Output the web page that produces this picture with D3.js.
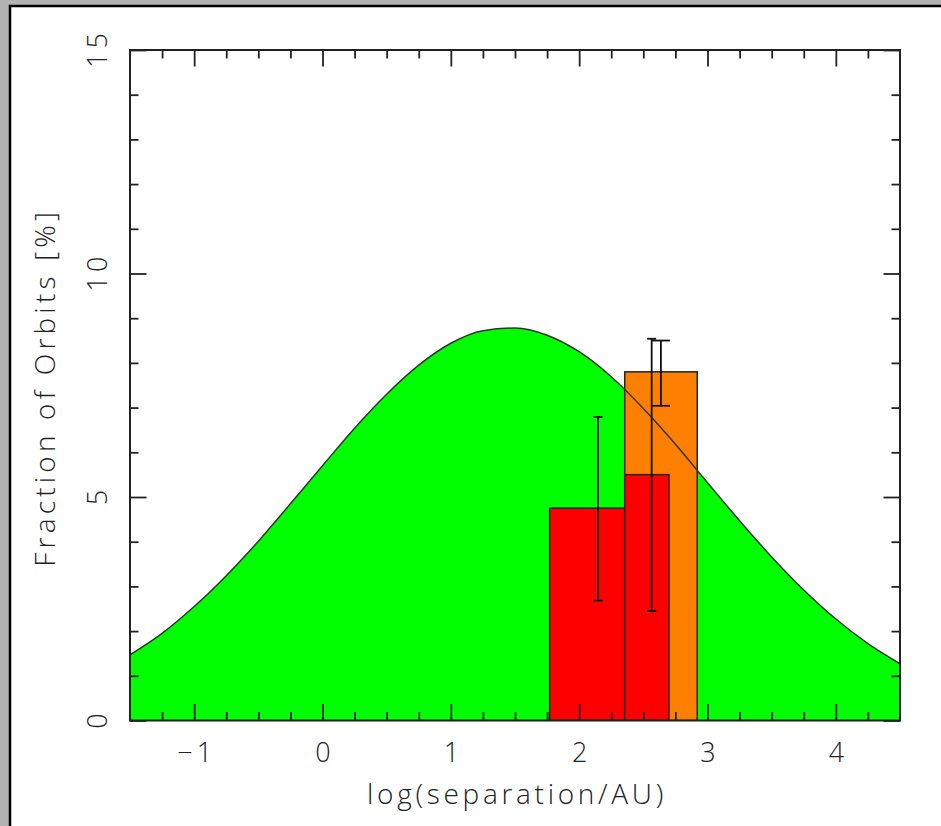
<!DOCTYPE html>
<html lang="en">
<head>
  <meta charset="UTF-8" />
  <title>Fraction of Orbits</title>
  <script src="https://d3js.org/d3.v7.min.js"></script>
  <style>
    body, html {
      margin: 0;
      padding: 0;
      background: #b2b2b2;
    }
    #chart {
      display: block;
    }
    text {
      font-family: "Open Sans", "DejaVu Sans", sans-serif;
      font-weight: 300;
      fill: #222;
    }
  </style>
</head>
<body>
  <svg id="chart" width="941" height="826"></svg>
  <script>
    // Gaussian-like model curve, every 0.25 in log(a)
    const curveX = [-1.5, -1.25, -1, -0.75, -0.5, -0.25, 0, 0.25, 0.5, 0.75, 1, 1.25, 1.5,
                    1.75, 2, 2.25, 2.5, 2.75, 3, 3.25, 3.5, 3.75, 4, 4.25, 4.5];
    const curveY = [1.47, 1.95, 2.55, 3.24, 4.01, 4.85, 5.70, 6.54, 7.30, 7.95, 8.44, 8.72, 8.78,
                    8.62, 8.25, 7.69, 6.98, 6.18, 5.32, 4.47, 3.66, 2.92, 2.27, 1.72, 1.27];

    // histogram bins (log separation edges) and heights in %
    const redBins = [[1.77, 2.355], [2.355, 2.70]];
    const redHeights = [4.75, 5.50];
    const orangeBins = [[2.355, 2.92]];
    const orangeHeights = [7.80];

    // error bars: position, low, high
    const redErrX = [2.147, 2.565];
    const redErrLo = [2.68, 2.45];
    const redErrHi = [6.79, 8.54];
    const orangeErrX = [2.637];
    const orangeErrLo = [7.04];
    const orangeErrHi = [8.50];

    const xMajor = [-1, 0, 1, 2, 3, 4];
    const yMajor = [0, 5, 10, 15];

    const svg = d3.select('#chart');

    // white panel with a dark border, as in the screenshot
    svg.append('rect')
      .attr('x', 10).attr('y', 6)
      .attr('width', 960).attr('height', 860)
      .attr('fill', '#fff')
      .attr('stroke', '#000')
      .attr('stroke-width', 2.5);

    const mLeft = 130, mRight = 900, mTop = 50, mBottom = 720.5;

    const x = d3.scaleLinear().domain([-1.5, 4.5]).range([mLeft, mRight]);
    const y = d3.scaleLinear().domain([0, 15]).range([mBottom, mTop]);

    svg.append('clipPath').attr('id', 'clip')
      .append('rect')
      .attr('x', mLeft).attr('y', mTop)
      .attr('width', mRight - mLeft).attr('height', mBottom - mTop);

    const plot = svg.append('g').attr('clip-path', 'url(#clip)');

    const pts = curveX.map((v, i) => [v, curveY[i]]);

    // green area under the model curve
    plot.append('path')
      .datum(pts)
      .attr('fill', '#00ff00')
      .attr('d', d3.area()
        .x(d => x(d[0]))
        .y0(y(0))
        .y1(d => y(d[1]))
        .curve(d3.curveMonotoneX));

    // histogram bars
    const drawBars = (bins, heights, color) => {
      plot.append('g')
        .selectAll('rect')
        .data(bins)
        .enter().append('rect')
        .attr('x', d => x(d[0]))
        .attr('width', d => x(d[1]) - x(d[0]))
        .attr('y', (d, i) => y(heights[i]))
        .attr('height', (d, i) => y(0) - y(heights[i]))
        .attr('fill', color)
        .attr('stroke', '#222')
        .attr('stroke-width', 1.5);
    };
    drawBars(orangeBins, orangeHeights, '#ff8000');
    drawBars(redBins, redHeights, '#ff0000');

    // model curve outline
    plot.append('path')
      .datum(pts)
      .attr('fill', 'none')
      .attr('stroke', '#333')
      .attr('stroke-width', 1.5)
      .attr('d', d3.line()
        .x(d => x(d[0]))
        .y(d => y(d[1]))
        .curve(d3.curveMonotoneX));

    // error bars
    const drawErr = (xs, lo, hi, cap) => {
      const g = plot.append('g').attr('stroke', '#111').attr('stroke-width', 1.8);
      xs.forEach((v, i) => {
        g.append('line')
          .attr('x1', x(v)).attr('x2', x(v))
          .attr('y1', y(lo[i])).attr('y2', y(hi[i]));
        [lo[i], hi[i]].forEach(e => {
          g.append('line')
            .attr('x1', x(v) - cap).attr('x2', x(v) + cap)
            .attr('y1', y(e)).attr('y2', y(e));
        });
      });
    };
    drawErr(redErrX, redErrLo, redErrHi, 4.5);
    drawErr(orangeErrX, orangeErrLo, orangeErrHi, 9);

    // ticks on all four sides, pointing inward
    const xMinor = d3.range(-1.25, 4.5, 0.25).filter(v => !xMajor.includes(v));
    const yMinor = d3.range(1, 15, 1).filter(v => !yMajor.includes(v));

    const styleAxis = g => {
      g.select('.domain').remove();
      g.selectAll('line').attr('stroke', '#222').attr('stroke-width', 1.8);
    };

    const addAxis = (axisFn, scale, transform, values, size, labels) => {
      const ax = axisFn(scale).tickValues(values).tickSize(-size).tickSizeOuter(0);
      if (!labels) ax.tickFormat('');
      const g = svg.append('g').attr('transform', transform).call(ax).call(styleAxis);
      g.selectAll('text')
        .attr('font-size', 27)
        .attr('fill', '#222')
        .style('letter-spacing', '4px');
      return g;
    };

    const xb = addAxis(d3.axisBottom, x, `translate(0,${mBottom})`, xMajor, 16.5, true);
    xb.selectAll('text')
      .attr('y', 0).attr('dy', 0)
      .attr('transform', 'translate(2,41.5)')
      .text(d => d < 0 ? '\u2212' + Math.abs(d) : d);
    addAxis(d3.axisBottom, x, `translate(0,${mBottom})`, xMinor, 8.5, false);
    addAxis(d3.axisTop, x, `translate(0,${mTop})`, xMajor, 16.5, false);
    addAxis(d3.axisTop, x, `translate(0,${mTop})`, xMinor, 8.5, false);

    const yl = addAxis(d3.axisLeft, y, `translate(${mLeft},0)`, yMajor, 16.5, true);
    yl.selectAll('text')
      .attr('x', 0).attr('dy', 0)
      .attr('text-anchor', 'middle')
      .attr('transform', `translate(${107 - mLeft},-2) rotate(-90)`);
    addAxis(d3.axisLeft, y, `translate(${mLeft},0)`, yMinor, 8.5, false);
    addAxis(d3.axisRight, y, `translate(${mRight},0)`, yMajor, 16.5, false);
    addAxis(d3.axisRight, y, `translate(${mRight},0)`, yMinor, 8.5, false);

    // plot frame
    svg.append('rect')
      .attr('x', mLeft).attr('y', mTop)
      .attr('width', mRight - mLeft).attr('height', mBottom - mTop)
      .attr('fill', 'none')
      .attr('stroke', '#222')
      .attr('stroke-width', 2);

    // axis titles
    svg.append('text')
      .attr('x', 517).attr('y', 804)
      .attr('text-anchor', 'middle')
      .attr('font-size', 28)
      .style('letter-spacing', '3.7px')
      .text('log(separation/AU)');

    svg.append('text')
      .attr('transform', `translate(55,${(mTop + mBottom) / 2 + 2}) rotate(-90)`)
      .attr('text-anchor', 'middle')
      .attr('font-size', 28)
      .style('letter-spacing', '4.2px')
      .text('Fraction of Orbits [%]');
  </script>
</body>
</html>
